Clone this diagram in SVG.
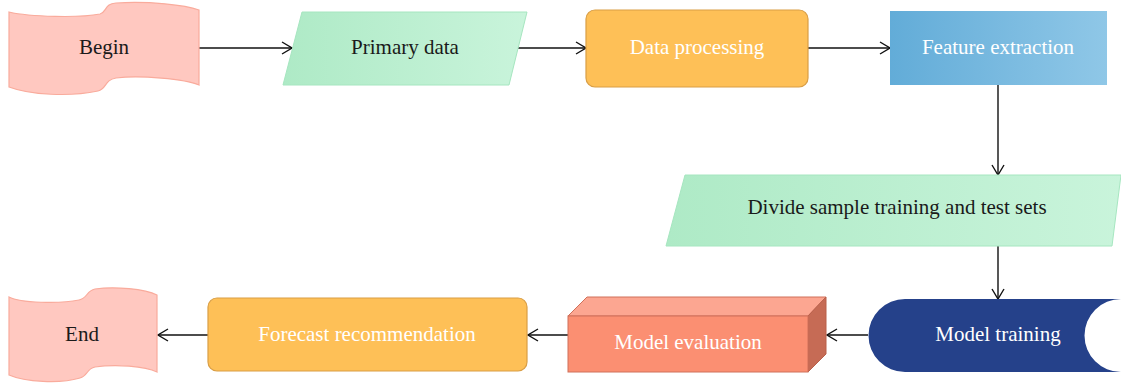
<svg xmlns="http://www.w3.org/2000/svg" width="1121" height="383" viewBox="0 0 1121 383">
<defs>
<linearGradient id="gGreen" x1="0" y1="0" x2="1" y2="0"><stop offset="0" stop-color="#aeeac6"/><stop offset="1" stop-color="#c9f4db"/></linearGradient>
<linearGradient id="gBlue" x1="0" y1="0" x2="1" y2="0"><stop offset="0" stop-color="#62acd8"/><stop offset="1" stop-color="#8fc7e7"/></linearGradient>
<marker id="arr" viewBox="0 0 12 14" refX="11" refY="7" markerWidth="12" markerHeight="14" markerUnits="userSpaceOnUse" orient="auto">
<path d="M1,1 L11,7 L1,13" fill="none" stroke="#111" stroke-width="1.4"/>
</marker>
<style>
.t{font-family:"Liberation Serif","Times New Roman",serif;font-size:21px;text-anchor:middle}
.dk{fill:#1a1a1a}
.wh{fill:#ffffff}
.tape{fill:#ffc8c0;stroke:#f9ab9c;stroke-width:1.2}
.orange{fill:#fec057;stroke:#d99e45;stroke-width:1.2}
.conn{stroke:#111;stroke-width:1.4;fill:none;marker-end:url(#arr)}
</style>
</defs>
<g id="connectors">
<line class="conn" x1="199" y1="48" x2="292" y2="48"/>
<line class="conn" x1="518" y1="48" x2="586" y2="48"/>
<line class="conn" x1="808" y1="48" x2="890" y2="48"/>
<line class="conn" x1="998" y1="85" x2="998" y2="175"/>
<line class="conn" x1="998" y1="246" x2="998" y2="299"/>
<line class="conn" x1="868" y1="335" x2="827" y2="335"/>
<line class="conn" x1="568" y1="335" x2="528" y2="335"/>
<line class="conn" x1="208" y1="335" x2="158" y2="335"/>
</g>
<g id="begin">
<path class="tape" d="M9,12 C30,17 80,18 100,14 C107,12 104,4 116,3 C150,1 185,5 199,10 L199,85 C185,79 140,75 116,78 C104,80 107,89 98,91 C70,97 30,95 9,87 Z"/>
<text class="t dk" x="104" y="54">Begin</text>
</g>
<g id="primary-data">
<polygon points="302,12 527,12 509,85 283,85" fill="url(#gGreen)" stroke="#a6e6c0" stroke-width="1"/>
<text class="t dk" x="405" y="54">Primary data</text>
</g>
<g id="data-processing">
<rect class="orange" x="586" y="10" width="222" height="77" rx="9"/>
<text class="t wh" x="697" y="54">Data processing</text>
</g>
<g id="feature-extraction">
<rect x="890" y="11" width="217" height="74" fill="url(#gBlue)"/>
<text class="t wh" x="998" y="54">Feature extraction</text>
</g>
<g id="divide">
<polygon points="685,175 1121,175 1112,246 666,246" fill="url(#gGreen)" stroke="#a6e6c0" stroke-width="1"/>
<text class="t dk" x="897" y="214">Divide sample training and test sets</text>
</g>
<g id="model-training">
<path d="M905,299 L1121,299 A36.5,36.5 0 0 0 1121,372 L905,372 A36.5,36.5 0 0 1 905,299 Z" fill="#25418a"/>
<text class="t wh" x="998" y="341">Model training</text>
</g>
<g id="model-evaluation">
<polygon points="568,316 587,297 826,297 808,316" fill="#fca691" stroke="#d0705a" stroke-width="1"/>
<polygon points="808,316 826,297 826,354 808,372" fill="#c66b55" stroke="#b9604b" stroke-width="1"/>
<rect x="568" y="316" width="240" height="56" fill="#fb8f72" stroke="#d0705a" stroke-width="1"/>
<text class="t wh" x="688" y="349">Model evaluation</text>
</g>
<g id="forecast">
<rect class="orange" x="208" y="298" width="319" height="73" rx="9"/>
<text class="t wh" x="367" y="341">Forecast recommendation</text>
</g>
<g id="end">
<path class="tape" d="M9,297 C20,303 60,304 79,300 C88,298 86,291 95,289 C115,286 145,289 157,295 L157,372 C145,366 115,364 95,367 C86,369 88,376 80,378 C60,384 25,382 9,375 Z"/>
<text class="t dk" x="82" y="341">End</text>
</g>
</svg>
